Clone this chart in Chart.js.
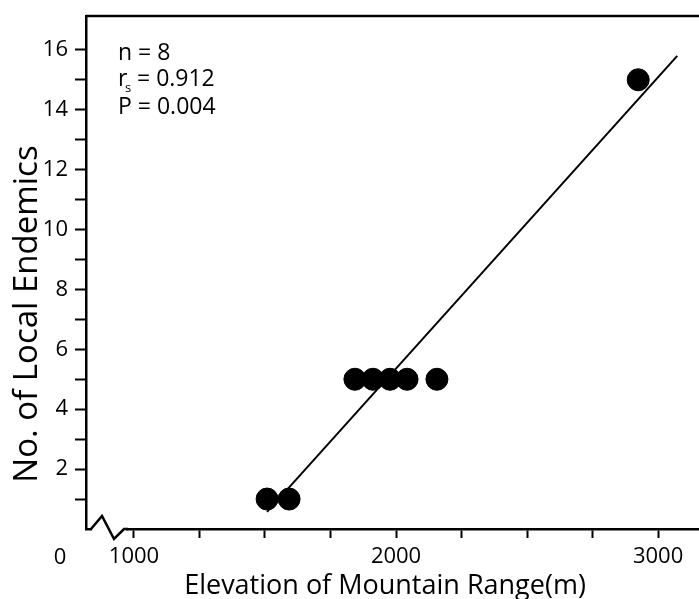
<!DOCTYPE html>
<html>
<head>
<meta charset="utf-8">
<script src="https://cdn.jsdelivr.net/npm/chart.js@4.4.1/dist/chart.umd.min.js"></script>
<style>
  html, body { margin: 0; padding: 0; background: #fff; overflow: hidden; }
  #wrap { width: 699px; height: 599px; position: relative; }
  canvas { display: block; }
</style>
</head>
<body>
<div id="wrap"><canvas id="endemics"></canvas></div>
<script>
// data
const elevation = [1508, 1592, 1843, 1912, 1977, 2042, 2156, 2924];
const endemics = [1, 1, 5, 5, 5, 5, 5, 15];
const fitX = [1508, 3073];
const fitY = [0.57, 15.8];
const xTicks = [1000, 1250, 1500, 1750, 2000, 2250, 2500, 2750, 3000];
const xLabels = [1000, 2000, 3000];
const yTicks = [1, 2, 3, 4, 5, 6, 7, 8, 9, 10, 11, 12, 13, 14, 15, 16];
const yLabels = [2, 4, 6, 8, 10, 12, 14, 16];
const stats = ["n = 8", "0.912", "P = 0.004"];
const xTitle = "Elevation of Mountain Range(m)";
const yTitle = "No. of Local Endemics";

const FONT = "'Open Sans', 'DejaVu Sans', sans-serif";

// top border, axis break, titles and the annotation text
const extras = {
    id: "extras",
    afterDraw(chart) {
        const ctx = chart.ctx;
        const a = chart.chartArea;
        ctx.save();
        ctx.strokeStyle = "#000";
        ctx.lineWidth = 2.5;
        ctx.beginPath();
        ctx.moveTo(a.left, a.top);
        ctx.lineTo(a.right, a.top);
        ctx.stroke();

        // break in the x axis
        ctx.fillStyle = "#fff";
        ctx.fillRect(a.left + 6, a.bottom - 3, 34, 6);
        ctx.beginPath();
        ctx.moveTo(a.left + 5, a.bottom);
        ctx.lineTo(a.left + 16, a.bottom - 13);
        ctx.lineTo(a.left + 28, a.bottom + 10);
        ctx.lineTo(a.left + 38, a.bottom);
        ctx.lineTo(a.left + 42, a.bottom);
        ctx.stroke();

        ctx.fillStyle = "#000";
        ctx.font = "22px " + FONT;
        ctx.textAlign = "center";
        ctx.textBaseline = "middle";
        ctx.fillText("0", 60, a.bottom + 29);

        // axis titles
        ctx.font = "27px " + FONT;
        ctx.textBaseline = "alphabetic";
        ctx.fillText(xTitle, 385, 594);
        ctx.save();
        ctx.translate(37, 314);
        ctx.rotate(-Math.PI / 2);
        ctx.font = "33px " + FONT;
        ctx.fillText(yTitle, 0, 0);
        ctx.restore();

        ctx.textAlign = "left";
        ctx.textBaseline = "middle";
        ctx.font = "23px " + FONT;
        ctx.fillText(stats[0], 118, 53);
        ctx.fillText("r", 118, 79);
        ctx.font = "13px " + FONT;
        ctx.fillText("s", 125, 88);
        ctx.font = "23px " + FONT;
        ctx.fillText("= " + stats[1], 137, 79);
        ctx.fillText(stats[2], 118, 107);
        ctx.restore();
    }
};

new Chart(document.getElementById("endemics"), {
    type: "scatter",
    data: {
        datasets: [{
            data: elevation.map((x, i) => ({x: x, y: endemics[i]})),
            backgroundColor: "#000",
            borderColor: "#000",
            pointRadius: 11,
            order: 1
        }, {
            type: "line",
            data: fitX.map((x, i) => ({x: x, y: fitY[i]})),
            borderColor: "#000",
            borderWidth: 2,
            pointRadius: 0,
            fill: false,
            order: 2
        }]
    },
    options: {
        responsive: true,
        maintainAspectRatio: false,
        animation: false,
        events: [],
        layout: {autoPadding: false, padding: {top: 16, right: 0, left: 0, bottom: 0}},
        plugins: {legend: {display: false}, tooltip: {enabled: false}},
        scales: {
            x: {
                type: "linear",
                min: 817,
                max: 3156,
                afterBuildTicks: s => { s.ticks = xTicks.map(v => ({value: v})); },
                afterFit: s => { s.height = 70; s.paddingLeft = 0; s.paddingRight = 0; },
                border: {display: true, color: "#000", width: 2.5},
                grid: {drawOnChartArea: false, color: "#000", tickLength: 9, tickWidth: 2},
                ticks: {
                    color: "#000",
                    font: {family: FONT, size: 22},
                    padding: 6,
                    maxRotation: 0,
                    autoSkip: false,
                    callback: v => xLabels.includes(v) ? String(v) : ""
                }
            },
            y: {
                type: "linear",
                min: 0,
                max: 17.13,
                afterBuildTicks: s => { s.ticks = yTicks.map(v => ({value: v})); },
                afterFit: s => { s.width = 86; s.paddingTop = 0; s.paddingBottom = 0; },
                border: {display: true, color: "#000", width: 2.5},
                grid: {drawOnChartArea: false, color: "#000", tickLength: 11, tickWidth: 2},
                ticks: {
                    color: "#000",
                    font: {family: FONT, size: 22},
                    padding: 7,
                    autoSkip: false,
                    callback: v => yLabels.includes(v) ? String(v) : ""
                }
            }
        }
    },
    plugins: [extras]
});
</script>
</body>
</html>
